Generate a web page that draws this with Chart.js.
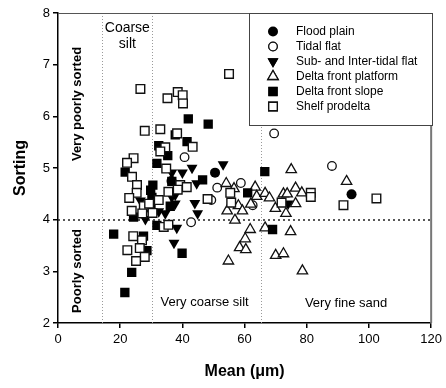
<!DOCTYPE html>
<html><head><meta charset="utf-8">
<script src="https://cdn.jsdelivr.net/npm/chart.js@4.4.1/dist/chart.umd.min.js"></script>
<style>html,body{margin:0;padding:0;background:#fff;overflow:hidden}</style>
</head><body>
<canvas id="c" width="446" height="388"></canvas>
<script>
const FONT = '"Liberation Sans", Arial, Helvetica, sans-serif';

const seriesNames = ['Flood plain','Tidal flat','Sub- and Inter-tidal flat','Delta front platform','Delta front slope','Shelf prodelta'];
const xTicks = [0,20,40,60,80,100,120];
const yTicks = [2,3,4,5,6,7,8];
const grainBounds = [14.3, 30.3, 65.3];
const sortingBound = 4;

const floodPlainMean    = [50.5, 94.4, 36.5];
const floodPlainSorting = [4.91, 4.49, 4.75];

const tidalFlatMean    = [69.5, 40.7, 51.2, 58.8, 88.1, 42.8, 49.3, 62.6];
const tidalFlatSorting = [5.67, 5.21, 4.62, 4.71, 5.04, 3.95, 4.38, 4.28];

const subTidalMean    = [26.5, 28.1, 29.2, 32.4, 34.5, 37.7, 36.6, 38.2, 37.3, 36.6, 40.0, 43.1, 53.1, 44.0, 44.9, 44.6, 74.0, 37.7];
const subTidalSorting = [4.37, 4.01, 4.22, 4.16, 4.12, 4.31, 4.44, 3.84, 3.55, 4.91, 4.91, 5.00, 5.07, 4.32, 4.12, 4.70, 4.31, 4.48];

const platformMean    = [75.0, 54.1, 56.6, 58.0, 59.3, 54.4, 62.0, 63.4, 63.9, 66.6, 68.0, 72.5, 73.7, 76.4, 78.4, 76.4, 69.9, 73.3, 92.8, 56.9, 61.8, 66.6, 74.8, 60.2, 58.4, 60.4, 70.0, 72.5, 54.8, 78.6];
const platformSorting = [4.97, 4.70, 4.60, 4.27, 4.17, 4.17, 4.30, 4.63, 4.45, 4.51, 4.42, 4.50, 4.50, 4.61, 4.52, 4.31, 4.22, 4.12, 4.74, 3.99, 3.81, 3.84, 3.77, 3.63, 3.46, 3.42, 3.31, 3.34, 3.20, 3.01];

const slopeMean    = [41.9, 48.3, 37.7, 41.5, 32.4, 35.3, 31.8, 21.6, 30.5, 29.8, 36.6, 30.2, 29.9, 24.3, 31.8, 17.9, 27.5, 28.6, 23.7, 21.5, 39.9, 46.5, 61.0, 66.5, 69.0, 36.1];
const slopeSorting = [5.95, 5.85, 5.64, 5.51, 5.43, 5.24, 5.09, 4.92, 4.67, 4.57, 4.74, 4.43, 4.30, 4.05, 3.89, 3.72, 3.68, 3.40, 2.98, 2.59, 3.35, 4.77, 4.52, 4.93, 3.81, 4.26];

const shelfMean    = [26.5, 35.2, 38.5, 40.1, 40.2, 55.0, 27.9, 32.9, 38.3, 34.5, 43.3, 32.9, 24.3, 22.2, 34.8, 23.8, 25.4, 25.3, 35.5, 22.9, 27.6, 32.4, 23.7, 30.4, 27.1, 34.0, 35.5, 24.2, 27.0, 22.3, 26.3, 27.9, 25.1, 39.3, 41.4, 38.5, 48.1, 55.4, 55.7, 71.9, 81.3, 81.3, 91.8, 102.4, 29.3];
const shelfSorting = [6.53, 6.35, 6.47, 6.41, 6.25, 6.82, 5.72, 5.75, 5.67, 5.40, 5.41, 5.32, 5.19, 5.10, 4.99, 4.83, 4.67, 4.52, 4.54, 4.42, 4.26, 4.38, 4.17, 4.13, 4.12, 3.86, 3.90, 3.68, 3.60, 3.41, 3.45, 3.28, 3.20, 4.67, 4.63, 4.58, 4.40, 4.52, 4.33, 4.33, 4.52, 4.44, 4.28, 4.41, 4.31];

function pts(xs, ys){ return xs.map((v,i)=>({x:v, y:ys[i]})); }

const styles = [
  {pointStyle:'circle',   rotation:0,   radius:5,   bg:'#000', bw:0},
  {pointStyle:'circle',   rotation:0,   radius:4.3, bg:'#fff', bw:1.3},
  {pointStyle:'triangle', rotation:180, radius:6.3, bg:'#000', bw:0},
  {pointStyle:'triangle', rotation:0,   radius:6,   bg:'#fff', bw:1.3},
  {pointStyle:'rect',     rotation:0,   radius:6.6, bg:'#000', bw:0},
  {pointStyle:'rect',     rotation:0,   radius:6.1, bg:'#fff', bw:1.4}
];
const seriesData = [
  pts(floodPlainMean, floodPlainSorting),
  pts(tidalFlatMean, tidalFlatSorting),
  pts(subTidalMean, subTidalSorting),
  pts(platformMean, platformSorting),
  pts(slopeMean, slopeSorting),
  pts(shelfMean, shelfSorting)
];

const datasets = seriesNames.map((n,i)=>({
  label:n, data:seriesData[i],
  pointStyle:styles[i].pointStyle, rotation:styles[i].rotation,
  pointRadius:styles[i].radius, pointHoverRadius:styles[i].radius,
  backgroundColor:styles[i].bg, borderColor:'#111', borderWidth:styles[i].bw,
  order:5-i
}));

const decor = {
  id:'decor',
  beforeDatasetsDraw(chart){
    const {ctx, chartArea:a, scales:{x,y}} = chart;
    ctx.save();
    ctx.strokeStyle = '#9a9a9a'; ctx.lineWidth = 1; ctx.setLineDash([1,2]);
    grainBounds.forEach(v=>{
      const px = Math.round(x.getPixelForValue(v)) + 0.5;
      ctx.beginPath(); ctx.moveTo(px, a.top); ctx.lineTo(px, a.bottom); ctx.stroke();
    });
    ctx.strokeStyle = '#222'; ctx.lineWidth = 1.5; ctx.setLineDash([2,3]);
    const py = Math.round(y.getPixelForValue(sortingBound));
    ctx.beginPath(); ctx.moveTo(a.left, py); ctx.lineTo(a.right, py); ctx.stroke();
    ctx.setLineDash([]);

    ctx.fillStyle = '#000'; ctx.textAlign = 'center'; ctx.textBaseline = 'middle';
    ctx.font = '14px ' + FONT;
    const cx = x.getPixelForValue((grainBounds[0]+grainBounds[1])/2);
    ctx.fillText('Coarse', cx, a.top + 15);
    ctx.fillText('silt', cx, a.top + 31);
    ctx.font = '13px ' + FONT;
    ctx.fillText('Very coarse silt', x.getPixelForValue((grainBounds[1]+grainBounds[2])/2) - 2, a.bottom - 21);
    ctx.fillText('Very fine sand', x.getPixelForValue((grainBounds[2]+120)/2), a.bottom - 20);
    ctx.font = 'bold 13px ' + FONT;
    ctx.save(); ctx.translate(a.left + 19.5, a.top + 91); ctx.rotate(-Math.PI/2);
    ctx.fillText('Very poorly sorted', 0, 0); ctx.restore();
    ctx.save(); ctx.translate(a.left + 19.5, a.top + 258); ctx.rotate(-Math.PI/2);
    ctx.fillText('Poorly sorted', 0, 0); ctx.restore();
    ctx.restore();
  },
  afterDatasetsDraw(chart){
    const {ctx, chartArea:a} = chart;
    ctx.save();
    // frame top/right
    ctx.strokeStyle = '#555'; ctx.lineWidth = 1;
    ctx.beginPath(); ctx.moveTo(a.left, a.top + 0.5); ctx.lineTo(a.right, a.top + 0.5); ctx.stroke();
    ctx.strokeStyle = '#777'; ctx.lineWidth = 2;
    ctx.beginPath(); ctx.moveTo(a.right, a.top); ctx.lineTo(a.right, a.bottom); ctx.stroke();
    // legend box
    const lx = 249.5, ly = a.top + 0.5, lw = 183, lh = 112;
    ctx.fillStyle = '#fff'; ctx.fillRect(lx, ly, lw, lh);
    ctx.strokeStyle = '#444'; ctx.lineWidth = 1; ctx.strokeRect(lx, ly, lw, lh);
    ctx.font = '12px ' + FONT; ctx.textAlign = 'left'; ctx.textBaseline = 'middle';
    chart.data.datasets.forEach((ds,i)=>{
      const yy = ly + 18 + i*15;
      Chart.helpers.drawPoint(ctx, {
        pointStyle: ds.pointStyle, rotation: ds.rotation,
        radius: ds.pointRadius, borderWidth: ds.borderWidth
      }, 273, yy);
      ctx.fillStyle = ds.backgroundColor; ctx.strokeStyle = '#111'; ctx.lineWidth = ds.borderWidth;
      ctx.fill(); if (ds.borderWidth) ctx.stroke();
      ctx.fillStyle = '#000';
      ctx.fillText(ds.label, 296, yy);
    });
    ctx.restore();
  }
};

new Chart(document.getElementById('c').getContext('2d'), {
  type:'scatter',
  data:{datasets},
  options:{
    responsive:false, animation:false, devicePixelRatio:1,
    layout:{padding:{top:13, right:11, left:0, bottom:0}},
    plugins:{legend:{display:false}, tooltip:{enabled:false}},
    scales:{
      x:{
        type:'linear', min:0, max:120,
        afterFit(s){ s.height = 65; },
        afterBuildTicks(s){ s.ticks = xTicks.map(v=>({value:v})); },
        grid:{drawOnChartArea:false, drawTicks:true, tickLength:5, color:'#000', lineWidth:1.5},
        border:{display:true, color:'#000', width:1.5},
        ticks:{color:'#000', font:{size:13, family:FONT}, padding:4, maxRotation:0},
        title:{display:true, text:'Mean (μm)', color:'#000', font:{size:16, weight:'bold', family:FONT}, padding:{top:0, bottom:7}}
      },
      y:{
        type:'linear', min:2, max:8,
        afterFit(s){ s.width = 58; },
        afterBuildTicks(s){ s.ticks = yTicks.map(v=>({value:v})); },
        grid:{drawOnChartArea:false, drawTicks:true, tickLength:5, color:'#000', lineWidth:1.5},
        border:{display:true, color:'#000', width:1.5},
        ticks:{color:'#000', font:{size:13, family:FONT}, padding:3},
        title:{display:true, text:'Sorting', color:'#000', font:{size:16, weight:'bold', family:FONT}, padding:{top:11, bottom:0}}
      }
    }
  },
  plugins:[decor]
});
</script>
</body></html>
